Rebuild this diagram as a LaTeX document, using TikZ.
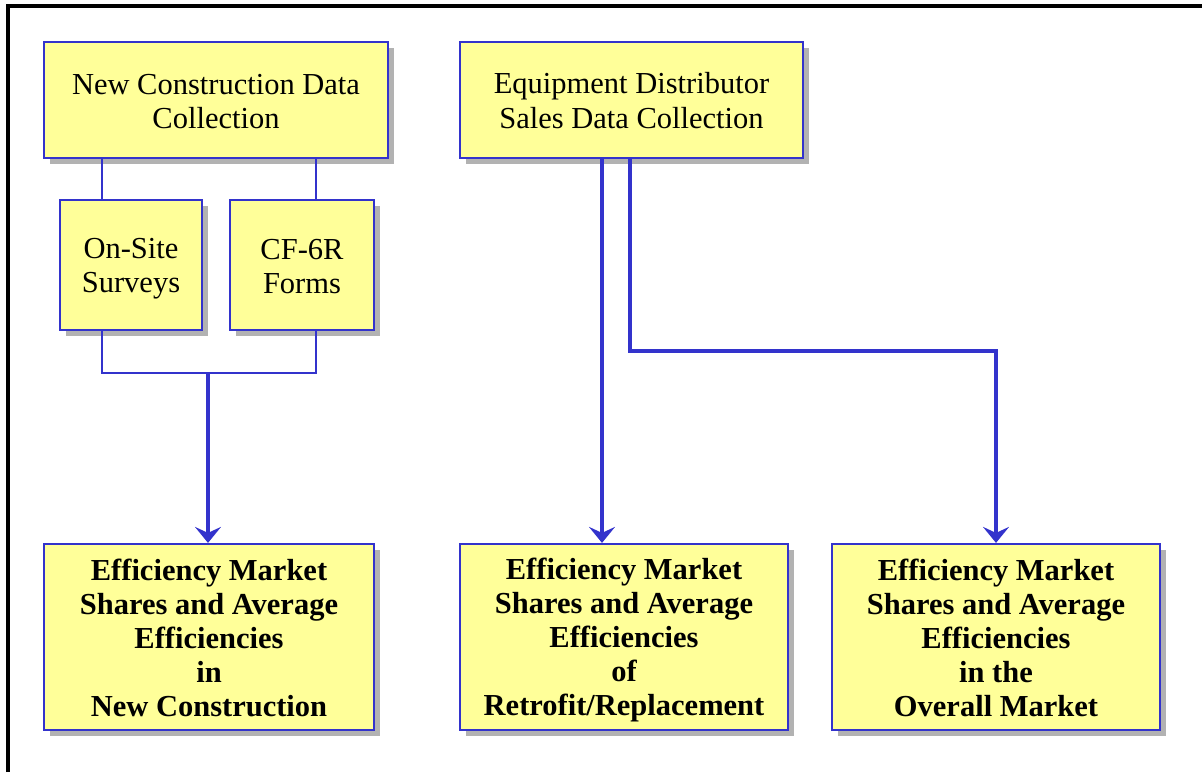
\documentclass[tikz,border=0pt]{standalone}
\usepackage{fontspec}
\setmainfont{Liberation Serif}
\usetikzlibrary{shadows,arrows.meta,calc}
\definecolor{boxfill}{HTML}{FFFF99}
\definecolor{boxline}{HTML}{3333CC}
\definecolor{shade}{HTML}{B2B2B2}
% fixed line box so every label sits at the same height in its box
\newcommand\linebox{\rule[-6pt]{0pt}{34pt}}

\begin{document}
\begin{tikzpicture}[x=1pt,y=-1pt,
  box/.style={draw=boxline, line width=2.2pt, fill=boxfill, align=center,
    inner sep=0pt, font=\fontsize{30.5}{34}\selectfont,
    drop shadow={shadow xshift=6pt, shadow yshift=-6pt, fill=shade, opacity=1}},
  result/.style={box, font=\fontsize{30.5}{34}\selectfont\bfseries},
  link/.style={draw=boxline, line width=2pt},
  flow/.style={draw=boxline, line width=4pt,
    -{Stealth[length=16pt,width=26pt,inset=6pt]}}]

\useasboundingbox (0,0) rectangle (1202,772);

% outer frame (top and left edges only)
\draw[line width=4pt] (8,772) -- (8,6) -- (1202,6);

% data collection sources
\node[box, minimum width=344pt, minimum height=116pt] (nc) at (216,100)
  {\linebox New Construction Data\\Collection\linebox};
\node[box, minimum width=343pt, minimum height=116pt] (eq) at (631.5,100)
  {\linebox Equipment Distributor\\Sales Data Collection\linebox};
\node[box, minimum width=142pt, minimum height=130pt] (os) at (131,265)
  {\linebox On-Site\\Surveys\linebox};
\node[box, minimum width=144pt, minimum height=130pt] (cf) at (302,265)
  {\linebox CF-6R\\Forms\linebox};

% results
\node[result, minimum width=330pt, minimum height=186pt] (b1) at (209,637)
  {\linebox Efficiency Market\\Shares and Average\\Efficiencies\\in\\New Construction\linebox};
\node[result, minimum width=328pt, minimum height=186pt] (b2) at (624,637)
  {\linebox Efficiency Market\\Shares and Average\\Efficiencies\\of\\Retrofit/Replacement\linebox};
\node[result, minimum width=328pt, minimum height=186pt] (b3) at (996,637)
  {\linebox Efficiency Market\\Shares and Average\\Efficiencies\\in the\\Overall Market\linebox};

% branch points
\coordinate (osout) at ([xshift=-29pt]os.south);
\coordinate (cfout) at ([xshift=14pt]cf.south);
\coordinate (join) at ($(osout)+(0,42)$);
\coordinate (merge) at ($(join)+(106,0)$);
\coordinate (eqa) at ([xshift=-29.5pt]eq.south);
\coordinate (eqb) at ([xshift=-1.5pt]eq.south);
\coordinate (turn) at ($(eqb)+(0,192)$);

% new construction branches
\draw[link] ([xshift=-29pt]os.north) -- ([xshift=-29pt]os.north |- nc.south);
\draw[link] ([xshift=14pt]cf.north) -- ([xshift=14pt]cf.north |- nc.south);
\draw[link] (osout) -- (join) -| (cfout);
\draw[flow] (merge) -- (merge |- b1.north);

% distributor sales flows
\draw[flow] (eqa) -- (eqa |- b2.north);
\draw[flow] (eqb) -- (turn) -| (b3.north);
\end{tikzpicture}
\end{document}
